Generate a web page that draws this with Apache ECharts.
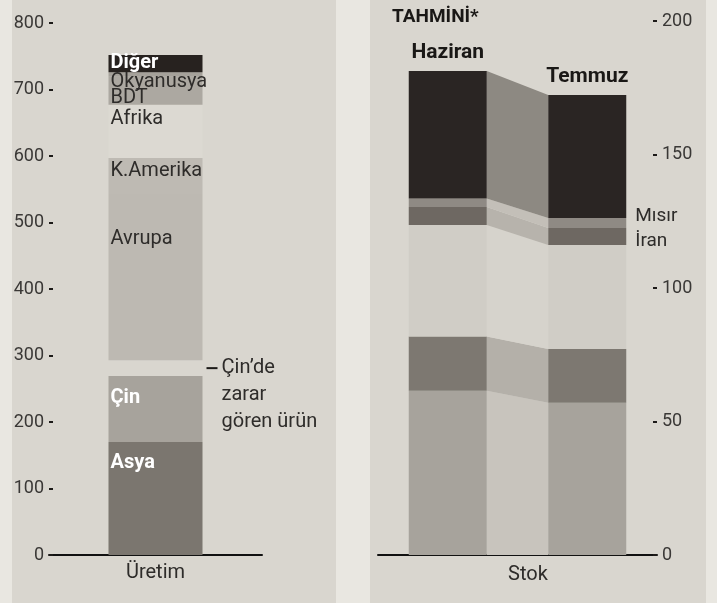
<!DOCTYPE html>
<html lang="tr">
<head>
<meta charset="UTF-8">
<title>Üretim ve Stok</title>
<script src="https://cdn.jsdelivr.net/npm/echarts@6/dist/echarts.min.js"></script>
</head>
<body style="margin:0">
<div id="chart" style="width:717px;height:603px"></div>
<script>
    // Üretim, bottom to top
    let uretimCategory = ['Üretim'];
    let uretimNames = ['Asya', 'Çin', 'Çin’de zarar gören ürün', 'Avrupa', 'K.Amerika', 'Afrika', 'BDT', 'Okyanusya', 'Diğer'];
    let uretimValues = [170, 99, 24, 250, 54, 80, 42, 7, 26];

    // Stok (tahmini), bottom to top
    let stokMonths = ['Haziran', 'Temmuz'];
    let stokNames = ['Katman 1', 'Katman 2', 'Katman 3', 'İran', 'Mısır', 'Diğer'];
    let stokHaziran = [61.5, 20.3, 41.8, 6.7, 3.2, 47.8];
    let stokTemmuz = [57.0, 20.2, 38.9, 6.4, 3.7, 46.1];

    let uretimTicks = {min: 0, max: 800, interval: 100};
    let stokTicks = {min: 0, max: 200, interval: 50};

    let font = 'Roboto';
    let ink = '#2e2c2a';
    let uretimColors = ['#7b766f', '#a7a39c', 'rgba(0,0,0,0)', '#bdb9b2', '#bebab3', '#dcd9d2', '#aca8a1', '#a5a19a', '#27221f'];
    // label placement inside the bar: [dx, dy from segment top], text colour, bold
    let uretimLabelStyle = {
        'Asya': [2, 21, '#ffffff', true],
        'Çin': [2, 22, '#ffffff', true],
        'Avrupa': [2, 45, ink, false],
        'K.Amerika': [2, 13, ink, false],
        'Afrika': [2, 14, ink, false],
        'BDT': [2, 21, ink, false],
        'Okyanusya': [2, 10, ink, false],
        'Diğer': [2, 8, '#ffffff', true]
    };
    let stokColors = ['#a7a39c', '#7d7871', '#d0cdc6', '#6e6862', '#8f8a84', '#2a2523'];
    let bandColors = ['#c8c4bd', '#b4b0a9', '#d6d3cc', '#b7b3ac', '#c3bfb8', '#8d8982'];
    let UR_BAR = 94, ST_BAR = 78;

    let chart = echarts.init(document.getElementById('chart'));

    let series = [];
    uretimNames.forEach(function (name, i) {
        let s = {
            name: name,
            type: 'bar',
            stack: 'uretim',
            xAxisIndex: 0,
            yAxisIndex: 0,
            barWidth: UR_BAR,
            data: [uretimValues[i]],
            itemStyle: {color: uretimColors[i]},
            silent: true
        };
        let ls = uretimLabelStyle[name];
        if (ls) {
            s.label = {
                show: true,
                position: [ls[0], ls[1]],
                align: 'left',
                verticalAlign: 'middle',
                formatter: name,
                color: ls[2],
                fontWeight: ls[3] ? 'bold' : 'normal',
                fontSize: 20,
                fontFamily: font
            };
        } else {
            // the empty gap: annotation to the right
            s.label = {
                show: true,
                position: 'right',
                distance: 4,
                offset: [0, 27],
                formatter: '{d|}{g|}{t|Çin’de}\n{s|}{t|zarar}\n{s|}{t|gören ürün}',
                rich: {
                    d: {width: 11, height: 2, backgroundColor: '#1c1a18'},
                    g: {width: 4},
                    s: {width: 15},
                    t: {fontSize: 20, fontFamily: font, color: ink, lineHeight: 27}
                }
            };
        }
        series.push(s);
    });

    function cum(arr, n) {
        let t = 0;
        for (let k = 0; k < n; k++) t += arr[k];
        return t;
    }

    // connecting bands between Haziran and Temmuz
    series.push({
        type: 'custom',
        xAxisIndex: 1,
        yAxisIndex: 1,
        z: 1,
        silent: true,
        data: stokNames.map(function (n, i) { return [0, i]; }),
        renderItem: function (params, api) {
            let i = params.dataIndex;
            let h0 = cum(stokHaziran, i), h1 = h0 + stokHaziran[i];
            let t0 = cum(stokTemmuz, i), t1 = t0 + stokTemmuz[i];
            let a = api.coord([0, h0]), b = api.coord([0, h1]);
            let c = api.coord([1, t1]), d = api.coord([1, t0]);
            let x0 = a[0] + ST_BAR / 2, x1 = c[0] - ST_BAR / 2;
            return {
                type: 'polygon',
                shape: {points: [[x0, a[1]], [x0, b[1]], [x1, c[1]], [x1, d[1]]]},
                style: {fill: bandColors[i]}
            };
        }
    });

    stokNames.forEach(function (name, i) {
        let data = [stokHaziran[i], stokTemmuz[i]];
        let s = {
            name: name,
            type: 'bar',
            stack: 'stok',
            xAxisIndex: 1,
            yAxisIndex: 1,
            barWidth: ST_BAR,
            z: 2,
            silent: true,
            itemStyle: {color: stokColors[i]},
            data: data
        };
        if (name === 'Mısır' || name === 'İran') {
            s.data = [data[0], {
                value: data[1],
                label: {
                    show: true,
                    position: 'right',
                    distance: 9,
                    offset: [0, name === 'Mısır' ? -7 : 5],
                    formatter: name,
                    fontSize: 19,
                    fontFamily: font,
                    color: ink
                }
            }];
        }
        if (i === stokNames.length - 1) {
            s.label = {
                show: true,
                position: 'top',
                distance: 8,
                formatter: '{b}',
                fontSize: 21,
                fontWeight: 'bold',
                fontFamily: font,
                color: '#1a1816'
            };
        }
        series.push(s);
    });

    let yLabel = {fontSize: 18, fontFamily: font, color: '#3a3836', margin: 5};
    let yTick = {show: true, inside: true, length: 4, lineStyle: {color: '#1c1a18', width: 2}};

    let option = {
        backgroundColor: '#e9e7e1',
        animation: false,
        title: {
            text: 'TAHMİNİ*',
            left: 387,
            top: 3,
            textStyle: {fontSize: 19, fontWeight: 'bold', fontFamily: font, color: '#1a1816'}
        },
        graphic: [
            {type: 'rect', z: -10, silent: true, shape: {x: 12, y: 0, width: 324, height: 603}, style: {fill: '#d9d6cf'}},
            {type: 'rect', z: -10, silent: true, shape: {x: 370, y: 0, width: 336, height: 603}, style: {fill: '#d9d6cf'}}
        ],
        grid: [
            {left: 49, right: 455, top: 23, bottom: 48},
            {left: 378, right: 60, top: 21, bottom: 48}
        ],
        xAxis: [
            {
                type: 'category',
                gridIndex: 0,
                data: uretimCategory,
                axisLine: {lineStyle: {color: '#111', width: 2}},
                axisTick: {show: false},
                axisLabel: {fontSize: 20, fontFamily: font, color: ink, margin: 8}
            },
            {
                type: 'category',
                gridIndex: 1,
                data: stokMonths,
                axisLine: {lineStyle: {color: '#111', width: 2}},
                axisTick: {show: false},
                axisLabel: {show: false},
                name: 'Stok',
                nameLocation: 'middle',
                nameGap: 10,
                nameTextStyle: {fontSize: 20, fontFamily: font, color: ink, padding: [0, 0, 0, 21]}
            }
        ],
        yAxis: [
            {
                type: 'value',
                gridIndex: 0,
                min: uretimTicks.min,
                max: uretimTicks.max,
                interval: uretimTicks.interval,
                axisLine: {show: false},
                axisTick: yTick,
                splitLine: {show: false},
                axisLabel: yLabel
            },
            {
                type: 'value',
                gridIndex: 1,
                position: 'right',
                min: stokTicks.min,
                max: stokTicks.max,
                interval: stokTicks.interval,
                axisLine: {show: false},
                axisTick: yTick,
                splitLine: {show: false},
                axisLabel: yLabel
            }
        ],
        series: series
    };

    chart.setOption(option);
</script>
</body>
</html>
